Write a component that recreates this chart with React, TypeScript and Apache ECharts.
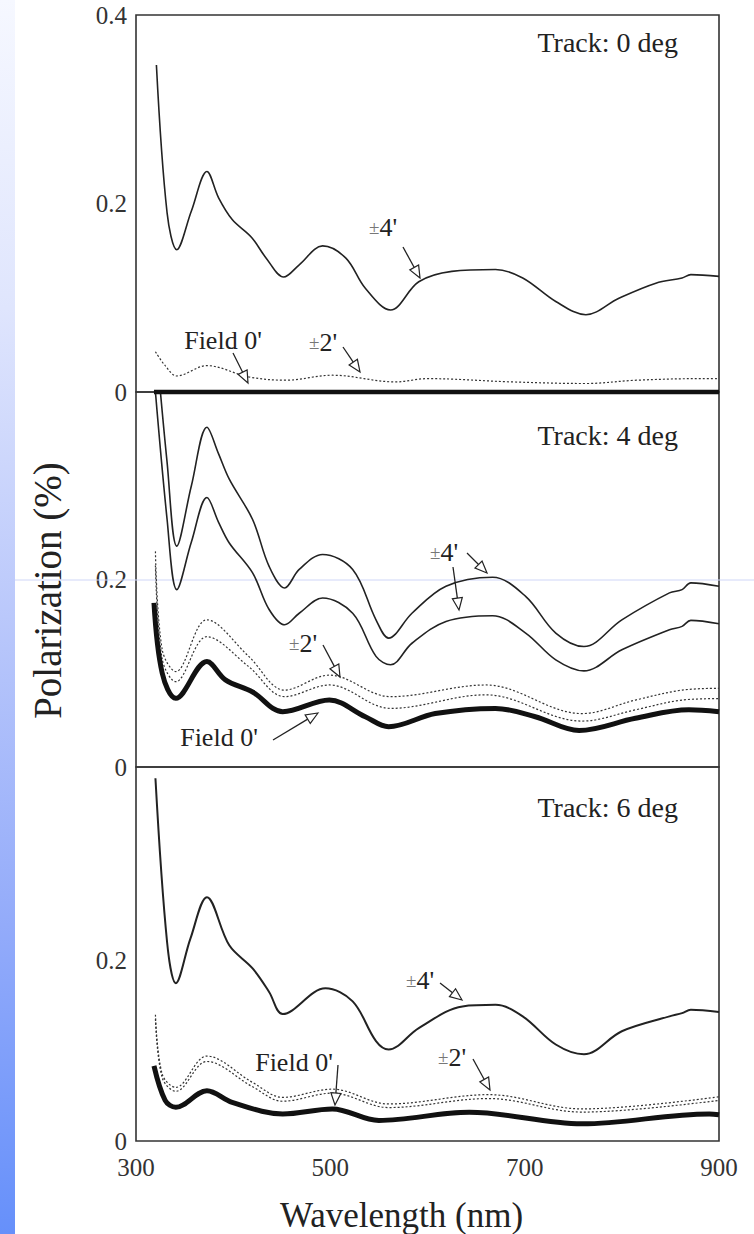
import React, { useEffect, useRef } from "react";
import * as echarts from "echarts";

// ---------- data ----------
const xTickLabels = [300, 500, 700, 900];
const yTickLabels = [0, 0.2, 0.4];
const trackLabels = ["Track: 0 deg", "Track: 4 deg", "Track: 6 deg"];

// Track 0 deg
const t0_pm4_wl = [321, 332, 342, 357, 373, 385, 399, 419, 434, 452, 468, 492, 516, 536, 562, 591, 625, 670, 698, 732, 763, 797, 835, 862, 871, 900];
const t0_pm4 = [0.347, 0.19, 0.151, 0.192, 0.234, 0.206, 0.183, 0.164, 0.142, 0.122, 0.135, 0.155, 0.142, 0.11, 0.087, 0.117, 0.128, 0.13, 0.121, 0.096, 0.082, 0.0995, 0.1155, 0.121, 0.1245, 0.1227];
const t0_pm2_wl = [320, 330, 342, 373, 416, 454, 502, 567, 600, 687, 763, 815, 883, 900];
const t0_pm2 = [0.0427, 0.028, 0.017, 0.028, 0.016, 0.0125, 0.0178, 0.0107, 0.0142, 0.0107, 0.009, 0.0125, 0.0142, 0.0142];
const t0_field_wl = [318.5, 900];
const t0_field = [0, 0];

// Track 4 deg
const t4_pm4a_wl = [320, 332, 342, 357, 373, 385, 396, 420, 437, 453, 468, 492, 523, 547, 560, 584, 619, 667, 701, 732, 761, 800, 849, 862, 871, 900];
const t4_pm4a = [0.46, 0.325, 0.2356, 0.3, 0.3624, 0.334, 0.307, 0.264, 0.214, 0.191, 0.2107, 0.2267, 0.2107, 0.157, 0.1375, 0.164, 0.1928, 0.2024, 0.182, 0.1429, 0.1285, 0.157, 0.1857, 0.1892, 0.1964, 0.1928];
const t4_pm4b_wl = [316, 332, 342, 357, 373, 385, 396, 420, 437, 453, 468, 492, 523, 547, 562, 584, 619, 667, 701, 732, 761, 800, 849, 862, 871, 900];
const t4_pm4b = [0.45, 0.264, 0.1892, 0.24, 0.2874, 0.261, 0.239, 0.207, 0.168, 0.1517, 0.164, 0.1803, 0.164, 0.118, 0.109, 0.132, 0.1553, 0.1614, 0.1429, 0.1143, 0.1025, 0.125, 0.1464, 0.15, 0.1564, 0.1528];
const t4_pm2a_wl = [320, 327, 341, 373, 416, 453, 499, 562, 660, 759, 814, 862, 900];
const t4_pm2a = [0.23, 0.125, 0.1018, 0.157, 0.118, 0.082, 0.098, 0.075, 0.0875, 0.057, 0.0714, 0.082, 0.084];
const t4_pm2b_wl = [320, 327, 341, 373, 416, 453, 499, 562, 660, 759, 814, 862, 900];
const t4_pm2b = [0.215, 0.115, 0.091, 0.139, 0.107, 0.075, 0.0875, 0.0625, 0.077, 0.049, 0.061, 0.0714, 0.073];
const t4_field_wl = [318.5, 327, 341, 373, 392, 420, 451, 499, 536, 560, 608, 670, 711, 756, 814, 869, 900];
const t4_field = [0.175, 0.1, 0.0733, 0.1125, 0.093, 0.08, 0.059, 0.0714, 0.0536, 0.043, 0.057, 0.0625, 0.0536, 0.039, 0.052, 0.061, 0.059];

// Track 6 deg
const t6_pm4_wl = [320, 332, 341, 356, 373, 396, 420, 437, 451, 495, 523, 547, 560, 591, 636, 670, 698, 732, 761, 800, 849, 862, 871, 900];
const t6_pm4 = [0.4015, 0.22, 0.1746, 0.224, 0.2698, 0.2166, 0.191, 0.165, 0.1405, 0.169, 0.1545, 0.1106, 0.1013, 0.125, 0.149, 0.1507, 0.138, 0.1068, 0.0959, 0.1215, 0.138, 0.1416, 0.1453, 0.1427];
const t6_pm2a_wl = [320, 327, 341, 373, 420, 451, 502, 560, 663, 759, 900];
const t6_pm2a = [0.1398, 0.074, 0.0593, 0.094, 0.0648, 0.0483, 0.0574, 0.041, 0.0513, 0.0355, 0.049];
const t6_pm2b_wl = [320, 327, 341, 373, 420, 451, 502, 560, 663, 759, 900];
const t6_pm2b = [0.135, 0.07, 0.055, 0.088, 0.06, 0.044, 0.053, 0.037, 0.047, 0.032, 0.045];
const t6_field_wl = [318.5, 330, 341, 373, 399, 451, 502, 550, 643, 759, 890, 900];
const t6_field = [0.0831, 0.045, 0.0373, 0.0557, 0.0428, 0.03, 0.0355, 0.0227, 0.0318, 0.019, 0.03, 0.029];

const yMax = [0.4, 0.4, 0.414];

// ---------- helpers ----------
const pairs = (xs: number[], ys: number[]) => xs.map((x, i) => [x, ys[i]]);
const FONT = "'Liberation Serif', 'Times New Roman', serif";
const INK = "#222";

function solid(idx: number, xs: number[], ys: number[], width = 1.6) {
  return {
    type: "line", xAxisIndex: idx, yAxisIndex: idx, data: pairs(xs, ys),
    showSymbol: false, smooth: 0.35, lineStyle: { color: INK, width }, z: 3,
  };
}
function dotted(idx: number, xs: number[], ys: number[]) {
  return {
    type: "line", xAxisIndex: idx, yAxisIndex: idx, data: pairs(xs, ys),
    showSymbol: false, smooth: 0.35, lineStyle: { color: "#333", width: 1.2, type: [2, 2] }, z: 2,
  };
}
function thick(idx: number, xs: number[], ys: number[], width = 5) {
  return {
    type: "line", xAxisIndex: idx, yAxisIndex: idx, data: pairs(xs, ys), clip: false,
    showSymbol: false, smooth: 0.35, lineStyle: { color: "#111", width }, z: 4,
  };
}

function arrow(x1: number, y1: number, x2: number, y2: number) {
  const dx = x2 - x1, dy = y2 - y1, len = Math.hypot(dx, dy);
  const ux = dx / len, uy = dy / len;
  const hl = 12, hw = 5;
  const bx = x2 - ux * hl, by = y2 - uy * hl;
  const px = -uy, py = ux;
  return [
    { type: "line", z: 100, shape: { x1, y1, x2: bx, y2: by }, style: { stroke: INK, lineWidth: 1.3 } },
    {
      type: "polygon", z: 100,
      shape: { points: [[x2, y2], [bx + px * hw, by + py * hw], [bx - px * hw, by - py * hw]] },
      style: { fill: "#fff", stroke: INK, lineWidth: 1.2 },
    },
  ];
}
function note(text: string, x: number, y: number) {
  const pm = text.startsWith("±");
  return {
    type: "text", z: 100, x, y,
    style: pm
      ? {
          text: "{pm|±}{v|" + text.slice(1) + "}",
          rich: { pm: { fontSize: 19, fill: "#777", fontFamily: FONT }, v: { fontSize: 26, fill: INK, fontFamily: FONT } },
          align: "center", verticalAlign: "middle",
        }
      : { text, fontSize: 26, fill: INK, fontFamily: FONT, align: "center", verticalAlign: "middle" },
  };
}

const grids = [
  { left: 136, top: 15, width: 583, height: 377 },
  { left: 136, top: 392, width: 583, height: 375 },
  { left: 136, top: 767, width: 583, height: 377 },
];

export default function App() {
  const ref = useRef<HTMLDivElement>(null);
  useEffect(() => {
    if (!ref.current) return;
    const chart = echarts.init(ref.current, undefined, { renderer: "svg" });
    const option: any = {
      animation: false,
      backgroundColor: "#fff",
      grid: grids.map((g) => ({ ...g, show: true, borderColor: "#333", borderWidth: 1.6, backgroundColor: "transparent" })),
      xAxis: grids.map((_, i) => ({
        type: "value", gridIndex: i, min: 300, max: 900, interval: 100,
        axisLine: { show: false }, axisTick: { show: false }, splitLine: { show: false },
        axisLabel: {
          show: i === 2, fontSize: 25, fontFamily: FONT, color: "#333", margin: 14,
          formatter: (v: number) => (xTickLabels.includes(v) ? String(v) : ""),
        },
        name: i === 2 ? "Wavelength (nm)" : "",
        nameLocation: "middle", nameGap: 57,
        nameTextStyle: { fontSize: 35, fontFamily: FONT, color: INK, padding: [0, 52, 0, 0] },
      })),
      yAxis: grids.map((_, i) => ({
        type: "value", gridIndex: i, min: 0, max: yMax[i], interval: 0.2,
        axisLine: { show: false }, axisTick: { show: false }, splitLine: { show: false },
        axisLabel: {
          fontSize: 25, fontFamily: FONT, color: "#333", margin: 9,
          formatter: (v: number) => {
            const t = yTickLabels.find((y) => Math.abs(y - v) < 1e-6);
            if (t === undefined) return "";
            if (i > 0 && t === 0.4) return "";
            return t === 0 ? "0" : t.toFixed(1);
          },
        },
        name: i === 1 ? "Polarization (%)" : "",
        nameLocation: "middle", nameRotate: 90, nameGap: 69,
        nameTextStyle: { fontSize: 39, fontFamily: FONT, color: INK, padding: [0, 22, 0, 0] },
      })),
      series: [
        solid(0, t0_pm4_wl, t0_pm4),
        dotted(0, t0_pm2_wl, t0_pm2),
        thick(0, t0_field_wl, t0_field, 4.5),
        solid(1, t4_pm4a_wl, t4_pm4a),
        solid(1, t4_pm4b_wl, t4_pm4b),
        dotted(1, t4_pm2a_wl, t4_pm2a),
        dotted(1, t4_pm2b_wl, t4_pm2b),
        thick(1, t4_field_wl, t4_field),
        solid(2, t6_pm4_wl, t6_pm4, 2),
        dotted(2, t6_pm2a_wl, t6_pm2a),
        dotted(2, t6_pm2b_wl, t6_pm2b),
        thick(2, t6_field_wl, t6_field),
      ],
      graphic: [
        {
          type: "rect", z: 0, shape: { x: 0, y: 0, width: 15, height: 1234 },
          style: {
            fill: new echarts.graphic.LinearGradient(0, 0, 0, 1, [
              { offset: 0, color: "#f6f8ff" },
              { offset: 0.25, color: "#dfe5fd" },
              { offset: 0.5, color: "#bac8fb" },
              { offset: 0.75, color: "#93abfa" },
              { offset: 1, color: "#6690fa" },
            ]),
          },
        },
        { type: "line", z: 1, shape: { x1: 15, y1: 580, x2: 754, y2: 580 }, style: { stroke: "#cfd6f7", lineWidth: 1 } },
        ...trackLabels.map((t, i) => ({
          type: "text", z: 100, x: 678, y: [42, 435, 807][i],
          style: { text: t, fontSize: 28, fontFamily: FONT, fill: INK, align: "right", verticalAlign: "middle" },
        })),
        // panel 1
        note("±4'", 383, 227), ...arrow(403, 247, 420, 278),
        note("Field 0'", 223, 340), ...arrow(233, 353, 248, 383),
        note("±2'", 323, 342), ...arrow(343, 347, 360, 372),
        // panel 2
        note("±2'", 303, 643), ...arrow(323, 645, 340, 677),
        note("Field 0'", 219, 737), ...arrow(273, 740, 318, 713),
        note("±4'", 444, 552), ...arrow(467, 553, 487, 573), ...arrow(453, 567, 459, 610),
        // panel 3
        note("Field 0'", 294, 1062), ...arrow(338, 1065, 335, 1105),
        note("±4'", 420, 980), ...arrow(440, 983, 462, 1000),
        note("±2'", 452, 1057), ...arrow(473, 1059, 490, 1090),
      ],
    };
    chart.setOption(option);
    return () => chart.dispose();
  }, []);
  return <div ref={ref} style={{ position: "absolute", left: 0, top: 0, width: 754, height: 1234 }} />;
}
